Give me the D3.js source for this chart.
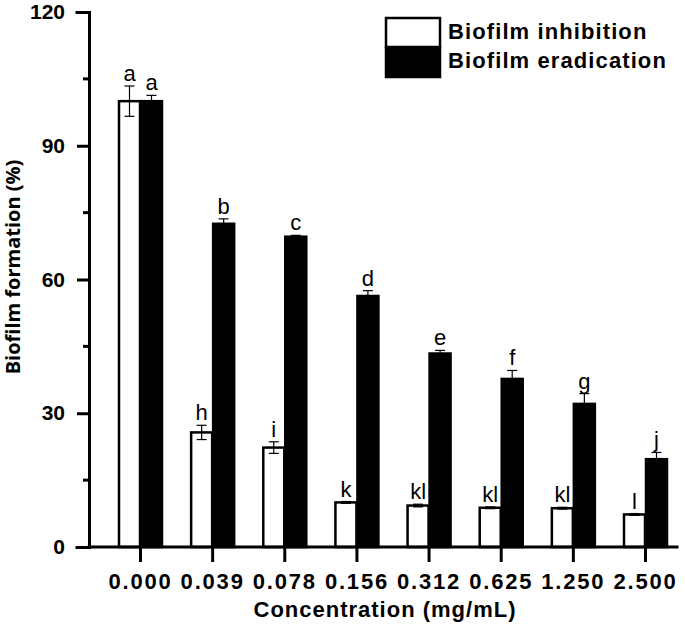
<!DOCTYPE html>
<html>
<head>
<meta charset="utf-8">
<script src="https://cdn.jsdelivr.net/npm/d3@7"></script>
<style>
  body { margin: 0; background: #fff; }
  svg text { font-family: "Liberation Sans", Arial, sans-serif; }
</style>
</head>
<body>
<div id="chart"></div>
<script>
// data
var concentrations = ["0.000", "0.039", "0.078", "0.156", "0.312", "0.625", "1.250", "2.500"];
var inhibition     = [100.0, 25.7, 22.3, 10.0, 9.3, 8.8, 8.7, 7.3];
var inhibitionErr  = [3.4, 1.6, 1.3, 0.2, 0.3, 0.2, 0.2, 0.2];
var inhibitionLbl  = ["a", "h", "i", "k", "kl", "kl", "kl", "l"];
var eradication    = [100.0, 72.5, 69.6, 56.3, 43.4, 37.7, 32.1, 19.7];
var eradicationErr = [1.3, 1.1, 0.3, 1.2, 0.7, 1.9, 2.3, 1.5];
var eradicationLbl = ["a", "b", "c", "d", "e", "f", "g", "j"];
var seriesNames    = ["Biofilm inhibition", "Biofilm eradication"];
var yTicks = [0, 30, 60, 90, 120];
var yMinor = [15, 45, 75, 105];

var width = 685, height = 624;

var svg = d3.select("#chart").append("svg")
    .attr("width", width)
    .attr("height", height);

// scales
var x = d3.scalePoint().domain(concentrations).range([140, 645]);
var sub = d3.scaleBand().domain(seriesNames).range([-22, 22]);
var y = d3.scaleLinear().domain([0, 120]).range([547, 12]);

var rows = concentrations.map(function(c, i) {
  return [
    {c: c, s: seriesNames[0], v: inhibition[i], e: inhibitionErr[i], l: inhibitionLbl[i], fill: "#fff"},
    {c: c, s: seriesNames[1], v: eradication[i], e: eradicationErr[i], l: eradicationLbl[i], fill: "#000"}
  ];
});
var flat = d3.merge(rows);

// bars
svg.append("g").selectAll("rect")
  .data(flat)
  .join("rect")
    .attr("x", function(d) { return x(d.c) + sub(d.s) + 1; })
    .attr("y", function(d) { return y(d.v); })
    .attr("width", sub.bandwidth() - 1)
    .attr("height", function(d) { return y(0) - y(d.v); })
    .attr("fill", function(d) { return d.fill; })
    .attr("stroke", "#000")
    .attr("stroke-width", 2.5);

// error bars
var eb = svg.append("g").attr("stroke", "#000").attr("stroke-width", 1.2)
  .selectAll("g")
  .data(flat)
  .join("g")
    .attr("transform", function(d) { return "translate(" + (x(d.c) + sub(d.s) + sub.bandwidth() / 2 + 0.5) + ",0)"; });

eb.append("line")
    .attr("y1", function(d) { return y(d.v - d.e); })
    .attr("y2", function(d) { return y(d.v + d.e); });
eb.append("line")
    .attr("x1", -5).attr("x2", 5)
    .attr("y1", function(d) { return y(d.v + d.e); })
    .attr("y2", function(d) { return y(d.v + d.e); });
eb.append("line")
    .attr("x1", -5).attr("x2", 5)
    .attr("y1", function(d) { return y(d.v - d.e); })
    .attr("y2", function(d) { return y(d.v - d.e); });

// significance letters
svg.append("g").selectAll("text")
  .data(flat)
  .join("text")
    .attr("x", function(d) { return x(d.c) + sub(d.s) + sub.bandwidth() / 2 + 0.5; })
    .attr("y", function(d) { return y(d.v + d.e) - 5; })
    .attr("text-anchor", "middle")
    .style("font-size", "22px")
    .text(function(d) { return d.l; });

// y axis
var yAxis = svg.append("g")
    .attr("transform", "translate(89,0)")
    .call(d3.axisLeft(y).tickValues(yTicks).tickSize(12).tickPadding(12));
yAxis.append("g").selectAll("line")
  .data(yMinor)
  .join("line")
    .attr("x1", -6).attr("x2", 0)
    .attr("y1", function(d) { return y(d); })
    .attr("y2", function(d) { return y(d); })
    .attr("stroke", "#000");

// x axis
var xAxis = svg.append("g")
    .attr("transform", "translate(0,547)")
    .call(d3.axisBottom(x).tickSize(15).tickPadding(11));
xAxis.select(".domain").attr("d", "M89,0H677");

[yAxis, xAxis].forEach(function(a) {
  a.select(".domain").attr("stroke-width", 3).attr("stroke-linecap", "square");
  a.selectAll(".tick line, line").attr("stroke-width", 3);
  a.selectAll("text")
    .style("font-size", "21px")
    .style("font-weight", "bold")
    .attr("fill", "#000");
});
xAxis.selectAll(".tick text").style("font-size", "22px").style("letter-spacing", "1.8px");

// axis titles
svg.append("text")
    .attr("x", 385)
    .attr("y", 617)
    .attr("text-anchor", "middle")
    .style("font-size", "22px")
    .style("font-weight", "bold")
    .style("letter-spacing", "1px")
    .text("Concentration (mg/mL)");

svg.append("text")
    .attr("transform", "translate(20,267) rotate(-90)")
    .attr("text-anchor", "middle")
    .style("font-family", "'Open Sans', sans-serif")
    .style("font-size", "20px")
    .style("font-weight", "bold")
    .text("Biofilm formation (%)");

// legend
var legend = svg.append("g").attr("transform", "translate(385,17)");
legend.selectAll("rect")
  .data(seriesNames)
  .join("rect")
    .attr("x", 1)
    .attr("y", function(d, i) { return i * 30 + 1; })
    .attr("width", 54)
    .attr("height", 29)
    .attr("fill", function(d, i) { return i ? "#000" : "#fff"; })
    .attr("stroke", "#000")
    .attr("stroke-width", 2.5);
legend.selectAll("text")
  .data(seriesNames)
  .join("text")
    .attr("x", 63)
    .attr("y", function(d, i) { return 22 + i * 29; })
    .style("font-size", "22px")
    .style("font-weight", "bold")
    .style("letter-spacing", "1.1px")
    .text(function(d) { return d; });
</script>
</body>
</html>
